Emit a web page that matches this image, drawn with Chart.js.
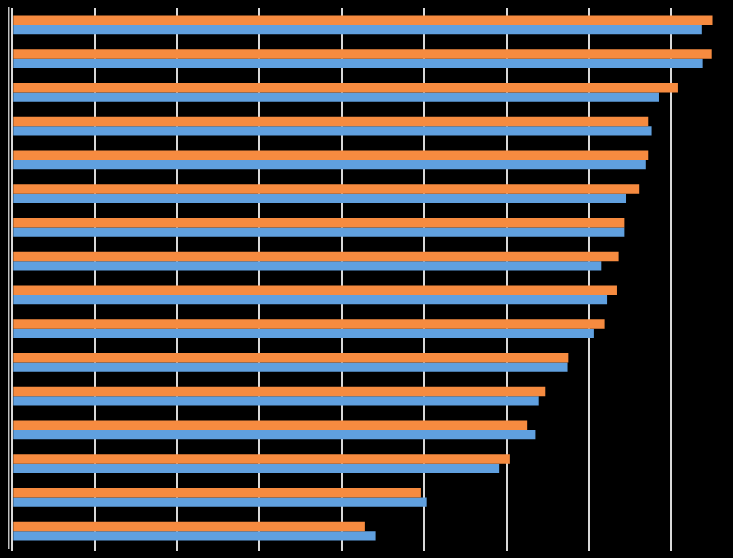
<!DOCTYPE html>
<html>
<head>
<meta charset="utf-8">
<script src="https://cdn.jsdelivr.net/npm/chart.js@4"></script>
<style>
  html, body { margin: 0; padding: 0; background: #000; }
  #wrap { width: 733px; height: 558px; }
</style>
</head>
<body>
<div id="wrap"><canvas id="chart"></canvas></div>
<script>
// categories have no visible labels in the picture
const categories = ['1','2','3','4','5','6','7','8','9','10','11','12','13','14','15','16'];
const seriesOrange = [85.0, 84.9, 80.8, 77.2, 77.2, 76.1, 74.3, 73.6, 73.4, 71.9, 67.5, 64.7, 62.5, 60.4, 49.6, 42.8];
const seriesBlue   = [83.7, 83.8, 78.5, 77.6, 76.9, 74.5, 74.3, 71.5, 72.2, 70.6, 67.4, 63.9, 63.5, 59.1, 50.3, 44.1];
const gridTicks = [0, 10, 20, 30, 40, 50, 60, 70, 80];

const canvas = document.getElementById('chart');

new Chart(canvas, {
  type: 'bar',
  data: {
    labels: categories,
    datasets: [
      {
        label: 'Series 1',
        data: seriesOrange,
        backgroundColor: '#f68b40',
        categoryPercentage: 0.555,
        barPercentage: 1.0
      },
      {
        label: 'Series 2',
        data: seriesBlue,
        backgroundColor: '#60a0df',
        categoryPercentage: 0.555,
        barPercentage: 1.0
      }
    ]
  },
  options: {
    indexAxis: 'y',
    maintainAspectRatio: false,
    responsive: true,
    animation: { duration: 0 },
    layout: {
      padding: { left: 9, right: 4, top: 8, bottom: 7 }
    },
    plugins: {
      legend: { display: false },
      tooltip: { enabled: false }
    },
    scales: {
      x: {
        min: -0.4,
        max: 87,
        afterBuildTicks: (axis) => {
          axis.ticks = gridTicks.map(v => ({ value: v }));
        },
        ticks: { display: false },
        grid: {
          color: '#d9d9d9',
          lineWidth: 2,
          drawTicks: true,
          tickLength: 3
        },
        border: { display: false }
      },
      y: {
        ticks: { display: false },
        grid: { display: false, drawTicks: false },
        border: { display: true, color: '#bfbfbf', width: 1.5 }
      }
    }
  }
});
</script>
</body>
</html>
